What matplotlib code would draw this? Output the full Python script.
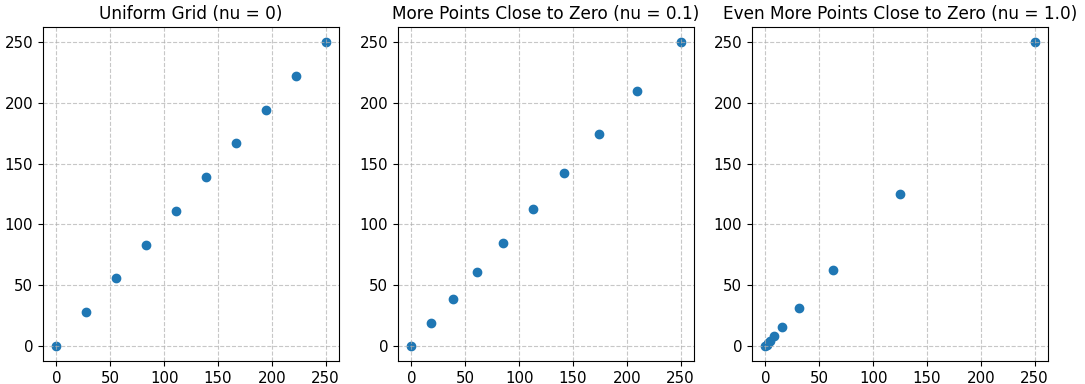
import matplotlib
matplotlib.use("Agg")
import matplotlib.pyplot as plt

titles = ["Uniform Grid (nu = 0)",
          "More Points Close to Zero (nu = 0.1)",
          "Even More Points Close to Zero (nu = 1.0)"]

grid_uniform = [0.0, 27.8, 55.6, 83.3, 111.1, 138.9, 166.7, 194.4, 222.2, 250.0]
grid_nu_01 = [0.0, 18.5, 38.5, 61.0, 85.0, 112.5, 142.0, 174.5, 210.0, 250.0]
grid_nu_10 = [0.0, 0.98, 1.95, 3.9, 7.8, 15.6, 31.25, 62.5, 125.0, 250.0]

grids = [grid_uniform, grid_nu_01, grid_nu_10]

fig = plt.figure(figsize=(10.85, 3.84), dpi=100)
lefts = [43, 398, 752]
for left, grid, title in zip(lefts, grids, titles):
    ax = fig.add_axes([left / 1085, 23 / 384, 296 / 1085, 334 / 384])
    ax.scatter(grid, grid)
    ax.set_title(title, fontsize=12.2)
    ax.tick_params(labelsize=10.8)
    ax.grid(True, linestyle="--", alpha=0.7)

plt.savefig("out.png")
